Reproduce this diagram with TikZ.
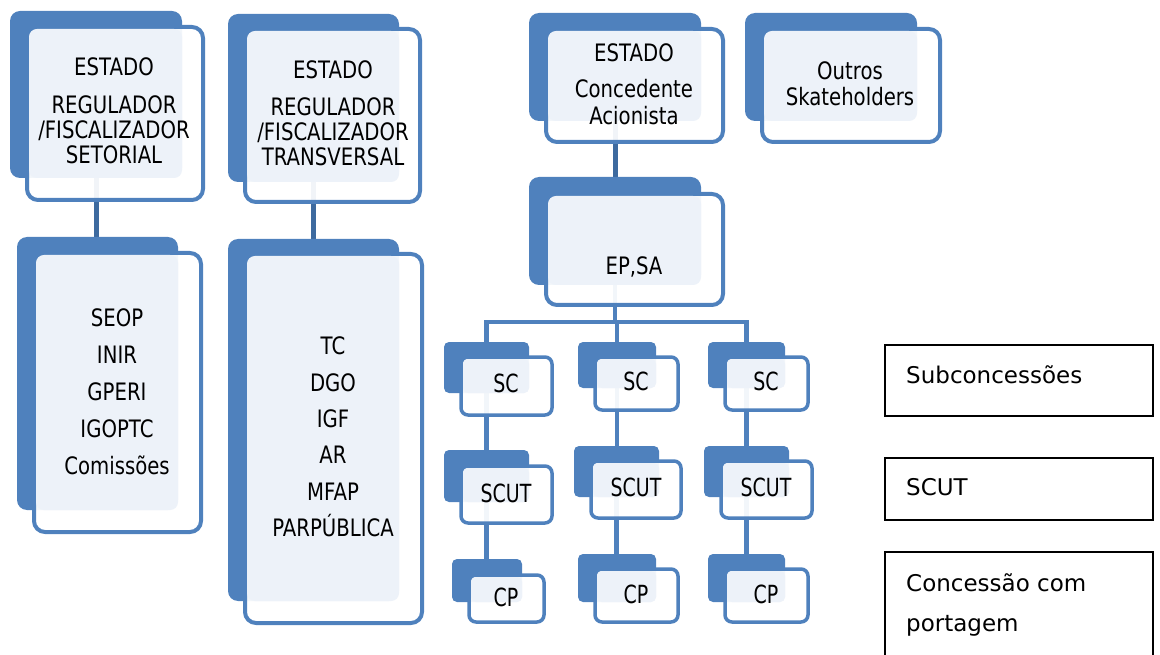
\documentclass[tikz,border=0pt]{standalone}
\usepackage{fontspec}
\setmainfont{DejaVu Sans}
\newfontfamily\boxfont[FakeStretch=0.82]{DejaVu Sans}
\newfontfamily\smfont[FakeStretch=0.76]{DejaVu Sans}
\usetikzlibrary{backgrounds,fit,calc}
\definecolor{blueA}{HTML}{4F81BD}
\definecolor{blueD}{HTML}{3D6A9F}
\definecolor{lightB}{HTML}{EDF2F9}
\tikzset{
  backbig/.style={fill=blueA, rounded corners=10pt, inner sep=0pt, outer sep=0pt},
  frontbig/.style={draw=blueA, line width=4pt, fill=white, fill opacity=0.93, rounded corners=11pt, inner sep=0pt, outer sep=0pt},
  lightbig/.style={fill=lightB, rounded corners=8pt},
  backsm/.style={fill=blueA, rounded corners=5pt, inner sep=0pt, outer sep=0pt},
  frontsm/.style={draw=blueA, line width=3.5pt, fill=white, fill opacity=0.93, rounded corners=7pt, inner sep=0pt, outer sep=0pt},
  lightsm/.style={fill=lightB, rounded corners=5pt},
  lbl/.style={font=\boxfont\fontsize{24}{25}\selectfont, align=center, inner sep=0pt, text=black},
  smlbl/.style={font=\smfont\fontsize{25}{26}\selectfont, inner sep=0pt, text=black},
  conn/.style={draw=blueA, line width=4.5pt},
  conntop/.style={draw=blueD, line width=5pt},
  legbox/.style={draw=black, line width=1.5pt, inner sep=0pt, outer sep=0pt},
  leglbl/.style={font=\fontsize{23}{40}\selectfont, align=left, inner sep=0pt, anchor=west, text=black},
}
\newcommand\stackbox[6]{%
  \node[back#2, fit={(#3) (#4)}] (#1) {};
  \node[front#2, fit={(#5) (#6)}] (#1f) {};
  \path[light#2] ([shift={(2pt,-2pt)}]#1f.north west) rectangle (#1.south east);
}
\begin{document}
\begin{tikzpicture}[x=1pt,y=-1pt]
\useasboundingbox (0,0) rectangle (1160,655);
\clip (0,0) rectangle (1160,655);

% boxes
\stackbox{A}{big}{10,11}{182,178}{27,27}{203,200}
\stackbox{B}{big}{228,14}{399,182}{245,29}{420,202}
\stackbox{C}{big}{17,237}{178,510}{34,253}{201,532}
\stackbox{D}{big}{228,239}{399,601}{245,254}{422,623}
\stackbox{E}{big}{529,13}{701,121}{546,29}{723,142}
\stackbox{F}{big}{745,13}{917,121}{762,29}{940,142}
\stackbox{G}{big}{529,177}{701,285}{546,194}{723,305}
\stackbox{SCa}{sm}{444,342}{529,393}{461,357}{552,415}
\stackbox{SCb}{sm}{578,342}{656,388}{595,357}{678,410}
\stackbox{SCc}{sm}{708,342}{785,388}{725,357}{808,410}
\stackbox{UTa}{sm}{444,450}{529,502}{461,466}{552,523}
\stackbox{UTb}{sm}{574,446}{659,497}{591,461}{681,518}
\stackbox{UTc}{sm}{704,446}{789,497}{721,461}{812,518}
\stackbox{CPa}{sm}{452,559}{522,602}{469,575}{544,622}
\stackbox{CPb}{sm}{578,554}{656,602}{595,569}{678,622}
\stackbox{CPc}{sm}{708,554}{785,602}{725,569}{808,622}

% connectors
\coordinate (bar) at (616,322);
\begin{pgfonlayer}{background}
  \draw[conntop] (A.south) -- (A.south |- C.north);
  \draw[conntop] (B.south) -- (B.south |- D.north);
  \draw[conntop] (E.south) -- (E.south |- G.north);
  \draw[conn] (G.south) -- (G.south |- bar);
  \draw[conn] (SCa.north) |- (bar) -| (SCc.north);
  \draw[conn] (SCb.north) -- (SCb.north |- bar);
  \draw[conn] (SCa.south) -- (SCa.south |- UTa.north);
  \draw[conn] (SCb.south) -- (SCb.south |- UTb.north);
  \draw[conn] (SCc.south) -- (SCc.south |- UTc.north);
  \draw[conn] (UTa.south) -- (UTa.south |- CPa.north);
  \draw[conn] (UTb.south) -- (UTb.south |- CPb.north);
  \draw[conn] (UTc.south) -- (UTc.south |- CPc.north);
\end{pgfonlayer}

% texts
\node[lbl] (tA) at (114,111) {ESTADO\\[13pt]REGULADOR\\/FISCALIZADOR\\SETORIAL};
\node[lbl] (tB) at (333,113.5) {ESTADO\\[12pt]REGULADOR\\/FISCALIZADOR\\TRANSVERSAL};
\node[lbl, font=\boxfont\fontsize{24}{37}\selectfont] (tC) at (117,391.5) {SEOP\\INIR\\GPERI\\IGOPTC\\Comissões};
\node[lbl, font=\boxfont\fontsize{24}{36.4}\selectfont] (tD) at (333,437) {TC\\DGO\\IGF\\AR\\MFAP\\PARPÚBLICA};
\node[lbl, font=\boxfont\fontsize{24}{27}\selectfont] (tE) at (634,84.5) {ESTADO\\[9pt]Concedente\\Acionista};
\node[lbl, font=\boxfont\fontsize{24}{26}\selectfont] (tF) at (850,84) {Outros\\Skateholders};
\node[lbl] (tG) at (634,267) {EP,SA};
\node[smlbl] (tSCa) at (506,383) {SC};
\node[smlbl] (tSCb) at (636,381) {SC};
\node[smlbl] (tSCc) at (766,381) {SC};
\node[smlbl] (tUTa) at (506,493) {SCUT};
\node[smlbl] (tUTb) at (636,487) {SCUT};
\node[smlbl] (tUTc) at (766,487) {SCUT};
\node[smlbl] (tCPa) at (506,597) {CP};
\node[smlbl] (tCPb) at (636,594) {CP};
\node[smlbl] (tCPc) at (766,594) {CP};

% legend
\node[legbox, fit={(885,345) (1153,416)}] (L1) {};
\node[legbox, fit={(885,458) (1153,520)}] (L2) {};
\node[legbox, fit={(885,552) (1153,680)}] (L3) {};
\node[leglbl] (lt1) at (906,375) {Subconcessões};
\node[leglbl] (lt2) at (906,487) {SCUT};
\node[leglbl] (lt3) at (906,604.5) {Concessão com\\portagem};
\end{tikzpicture}
\end{document}
